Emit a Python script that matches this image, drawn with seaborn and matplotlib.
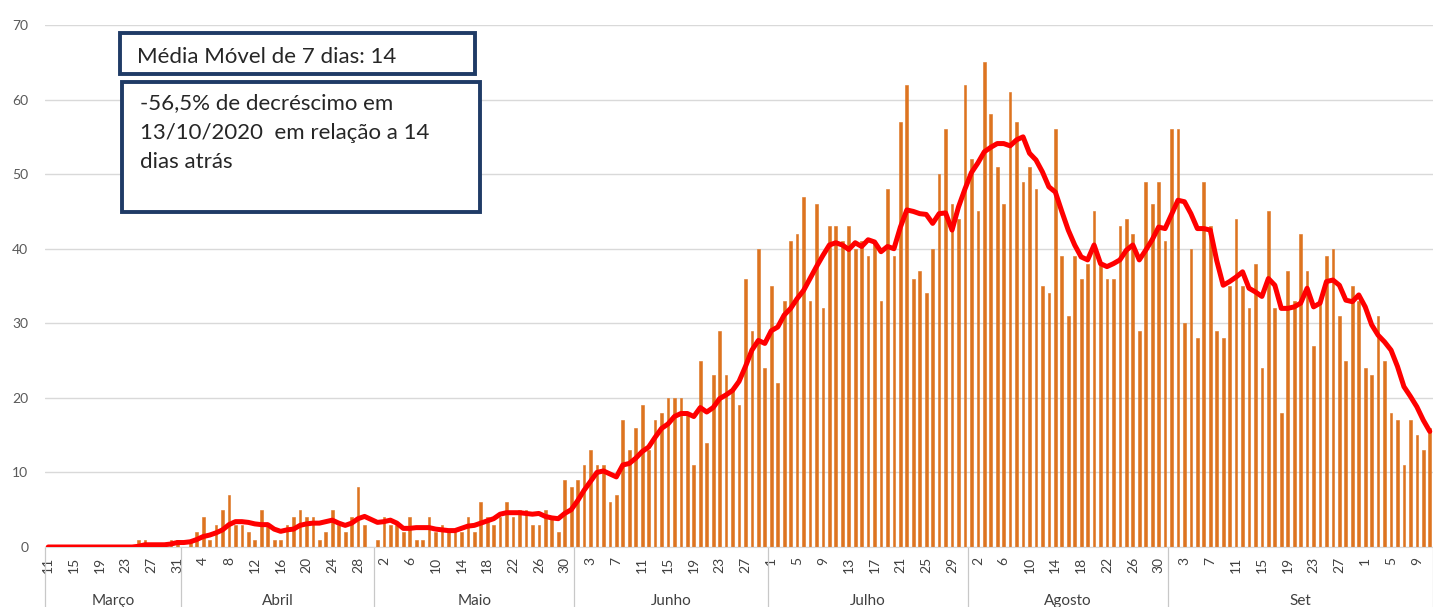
import numpy as np
import pandas as pd
import matplotlib
matplotlib.use("Agg")
import matplotlib.pyplot as plt
from matplotlib.patches import Rectangle
import seaborn as sns

# daily cases, 11/03 .. 11/10
casos = [0, 0, 0, 0, 0, 0, 0, 0, 0, 0, 0, 0, 0, 0, 1, 1, 0, 0, 0, 1, 1,
         0, 1, 2, 4, 1, 3, 5, 7, 3, 3, 2, 1, 5, 3, 1, 1, 3, 4, 5, 4, 4, 1, 2, 5, 3, 2, 4, 8, 3, 0,
         1, 4, 3, 3, 2, 4, 1, 1, 4, 2, 3, 2, 2, 2, 4, 2, 6, 4, 3, 4, 6, 4, 5, 5, 3, 3, 5, 4, 2, 9, 8,
         9, 11, 13, 11, 11, 6, 7, 17, 13, 16, 19, 13, 17, 18, 20, 20, 20, 18, 11, 25, 14, 23, 29, 23, 21, 19, 36, 29, 40, 24,
         35, 22, 33, 41, 42, 47, 33, 46, 32, 43, 43, 41, 43, 40, 41, 39, 41, 33, 48, 39, 57, 62, 36, 37, 34, 40, 50, 56, 46, 44, 62,
         52, 45, 65, 58, 51, 46, 61, 57, 49, 51, 48, 35, 34, 56, 39, 31, 39, 36, 38, 45, 38, 36, 36, 43, 44, 42, 29, 49, 46, 49, 41,
         56, 56, 30, 40, 28, 49, 43, 29, 28, 35, 44, 35, 32, 38, 24, 45, 32, 18, 37, 33, 42, 37, 27, 33, 39, 40, 31, 25, 35, 33,
         24, 23, 31, 25, 18, 17, 11, 17, 15, 13, 16]

# 7-day moving average as drawn
media_movel = [0, 0, 0, 0, 0, 0, 0, 0, 0, 0, 0, 0, 0, 0, 0.1, 0.3, 0.3, 0.3, 0.3, 0.4, 0.6,
               0.6, 0.7, 1.0, 1.4, 1.6, 1.9, 2.3, 3.0, 3.4, 3.4, 3.3, 3.1, 3.0, 3.0, 2.4, 2.1, 2.3, 2.4, 2.9, 3.1, 3.2, 3.2, 3.4, 3.6, 3.2, 2.9, 3.2, 3.8, 4.1, 3.7,
               3.3, 3.4, 3.6, 3.2, 2.5, 2.5, 2.6, 2.6, 2.6, 2.4, 2.3, 2.2, 2.2, 2.5, 2.8, 2.9, 3.2, 3.5, 3.8, 4.4, 4.6, 4.6, 4.6, 4.5, 4.4, 4.5, 4.1, 3.9, 3.8, 4.5, 5.0,
               6.2, 7.6, 8.8, 10.0, 10.2, 9.8, 9.4, 11.0, 11.2, 11.9, 12.8, 13.4, 14.7, 15.9, 16.5, 17.5, 17.9, 17.9, 17.5, 18.7, 18.1, 18.7, 19.9, 20.4, 21.0, 22.2, 24.2, 26.4, 27.7, 27.3,
               29.0, 29.5, 31.1, 32.0, 33.3, 34.4, 36.0, 37.6, 39.1, 40.5, 40.8, 40.5, 39.9, 40.8, 40.3, 41.2, 40.9, 39.6, 40.3, 40.0, 42.9, 45.2, 45.0, 44.7, 44.6, 43.4, 44.7, 44.8, 42.5, 45.6, 48.0,
               50.2, 51.5, 53.0, 53.6, 54.1, 54.1, 53.8, 54.6, 55.0, 52.8, 51.9, 50.3, 48.3, 47.6, 45.0, 42.5, 40.5, 38.9, 38.5, 40.5, 38.0, 37.6, 38.0, 38.5, 39.8, 40.5, 38.5, 39.8, 41.2, 42.9, 42.7,
               44.6, 46.5, 46.3, 44.7, 42.7, 42.7, 42.5, 38.4, 35.1, 35.6, 36.2, 36.9, 34.7, 34.2, 33.6, 36.0, 35.1, 32.0, 32.0, 32.2, 32.7, 34.7, 32.2, 32.7, 35.6, 35.8, 35.1, 33.1, 32.9, 33.8,
               32.2, 29.8, 28.4, 27.5, 26.4, 24.2, 21.5, 20.2, 18.8, 17.0, 15.5]

meses = ["Março", "Abril", "Maio", "Junho", "Julho", "Agosto", "Set"]
inicio_mes = [0, 21, 51, 82, 112, 143, 174]

texto_media = "Média Móvel de 7 dias: 14"
texto_queda = "-56,5% de decréscimo em\n13/10/2020  em relação a 14\ndias atrás"

n = len(casos)
dias = pd.date_range("2020-03-11", periods=n)
df = pd.DataFrame({"dia": np.arange(n), "casos": casos, "media": media_movel})

sns.set_style("white")
plt.rcParams["font.family"] = ["Lato", "DejaVu Sans"]

W, H = 1433, 607
fig = plt.figure(figsize=(W / 100, H / 100), dpi=100)
ax = fig.add_axes([45 / W, 1 - 547 / H, (W - 45) / W, 522 / H])

sns.barplot(data=df, x="dia", y="casos", color="#DD7420", width=0.42,
            saturation=1, edgecolor="#DD7420", linewidth=0.4, ax=ax, zorder=2)
sns.lineplot(data=df, x="dia", y="media", color="#FF0000", linewidth=3.6,
             ax=ax, zorder=3)

ax.set_xlim(-0.5, n - 0.5)
ax.set_ylim(0, 70)
ax.set_yticks(range(0, 71, 10))
ax.yaxis.grid(True, color="#d9d9d9", linewidth=1)
ax.set_axisbelow(True)
for s in ["left", "right", "top"]:
    ax.spines[s].set_visible(False)
ax.spines["bottom"].set_color("#d9d9d9")
ax.set_xlabel("")
ax.set_ylabel("")
ax.tick_params(axis="y", length=0, pad=12, labelsize=10, labelcolor="#595959")

# day labels every 4 days, tick marks between every day
ax.set_xticks(np.arange(0, n, 4))
ax.set_xticklabels([str(d.day) for d in dias[::4]], rotation=90)
ax.set_xticks(np.arange(-0.5, n, 1), minor=True)
ax.xaxis.remove_overlapping_locs = False
ax.tick_params(axis="x", which="major", length=0, pad=7, labelsize=10,
               labelcolor="#404040")
ax.tick_params(axis="x", which="minor", length=23, width=0.8, color="#d9d9d9")

# month groups
trans = ax.get_xaxis_transform()
fronteiras = inicio_mes + [n]
for x in fronteiras:
    ax.plot([x - 0.5, x - 0.5], [0, -0.12], transform=trans, color="#c8c8c8",
            linewidth=0.9, clip_on=False)
for i, nome in enumerate(meses):
    centro = (fronteiras[i] + fronteiras[i + 1] - 1) / 2
    ax.text(centro, -0.103, nome, transform=trans, ha="center", va="center",
            fontsize=11, color="#404040")

# annotation boxes
navy = "#1F3B66"
fig.patches.append(Rectangle((120 / W, 1 - 74 / H), 355 / W, 41 / H, transform=fig.transFigure,
                             facecolor="white", edgecolor=navy, linewidth=2.8, zorder=5))
fig.patches.append(Rectangle((122 / W, 1 - 212 / H), 358 / W, 130 / H, transform=fig.transFigure,
                             facecolor="white", edgecolor=navy, linewidth=2.8, zorder=5))
fig.text(137 / W, 1 - 57 / H, texto_media, ha="left", va="center", fontsize=16,
         color="#262626", zorder=6)
fig.text(140 / W, 1 - 93 / H, texto_queda, ha="left", va="top", fontsize=16,
         color="#262626", linespacing=1.6, zorder=6)

fig.savefig("out.png", dpi=100)
